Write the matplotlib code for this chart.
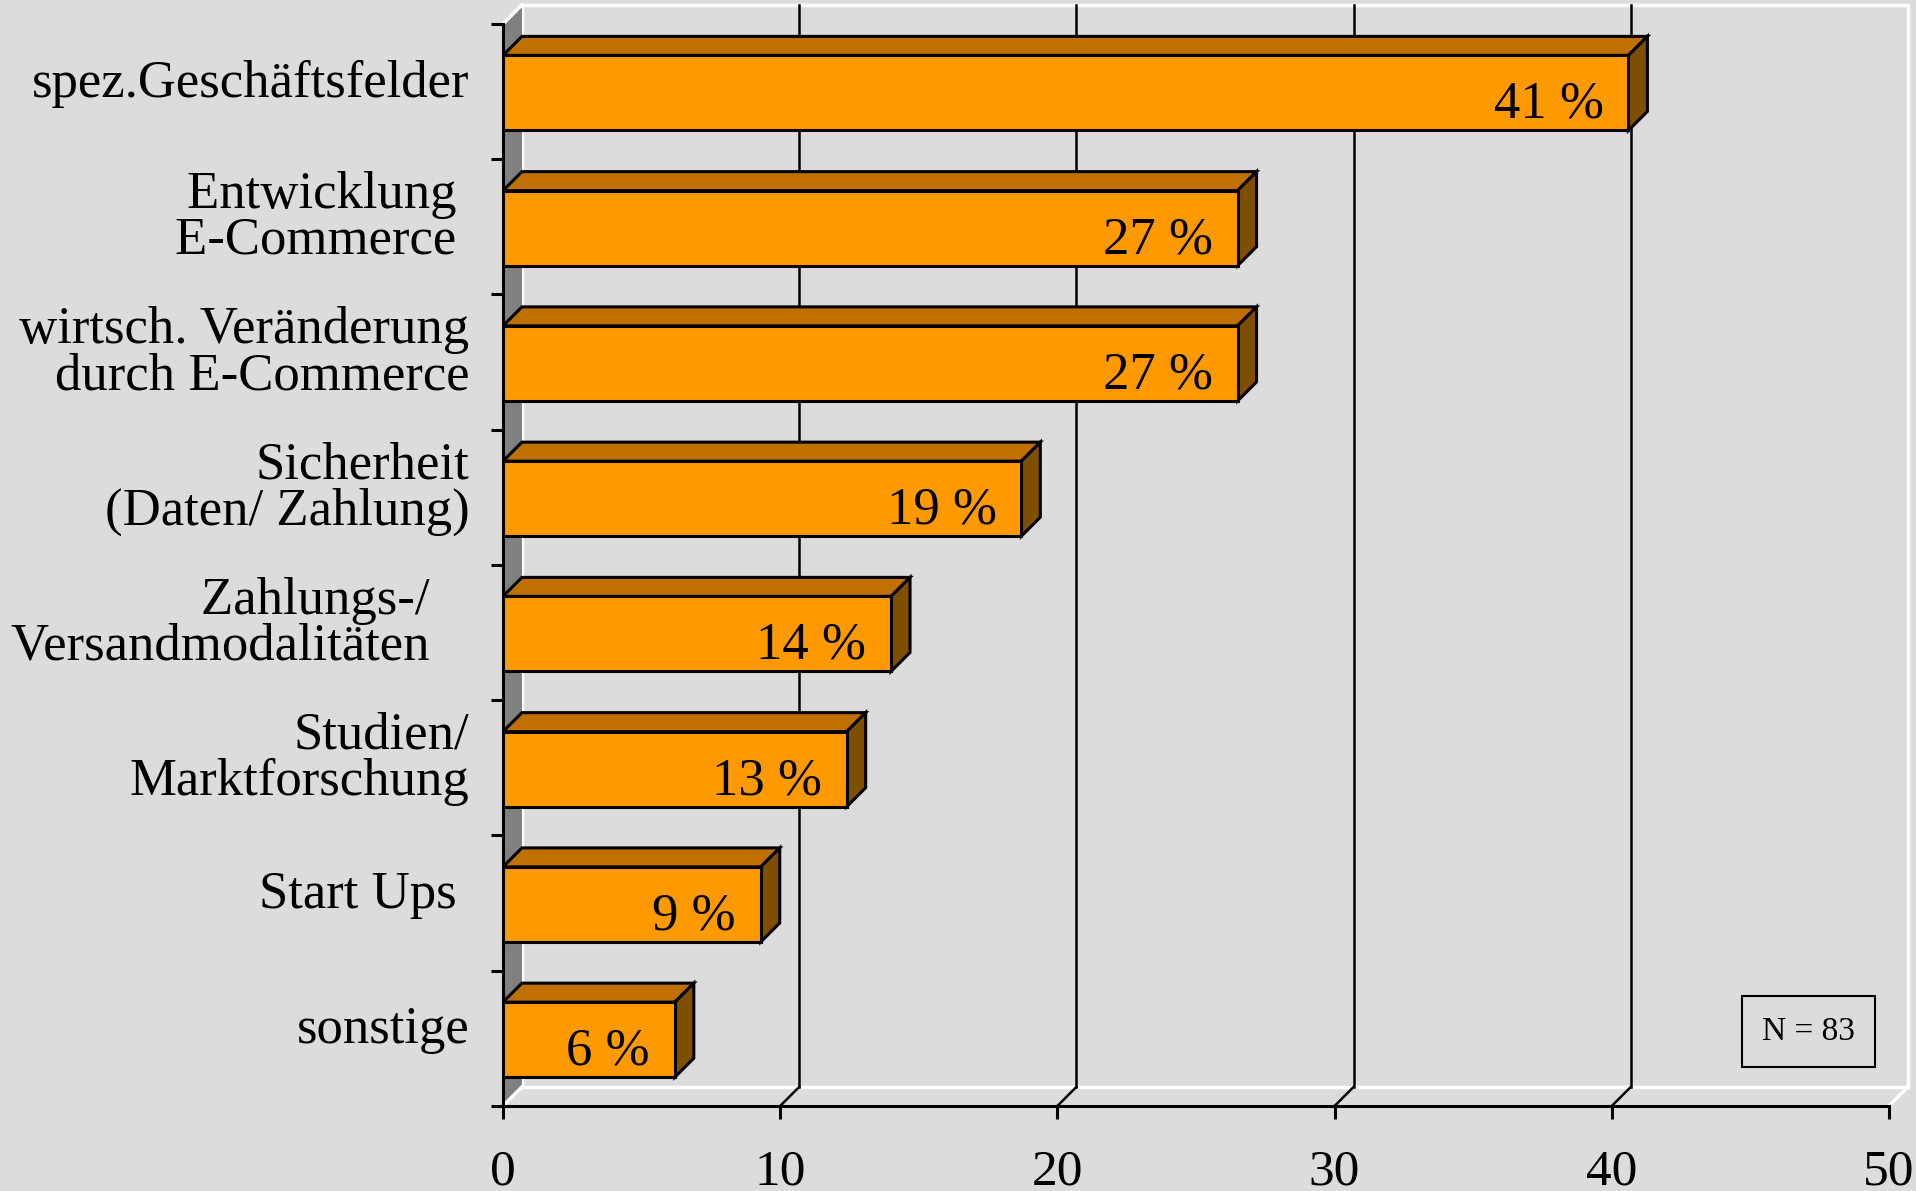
import numpy as np
import matplotlib
matplotlib.use('Agg')
import matplotlib.pyplot as plt
from matplotlib.patches import Polygon

plt.rcParams['font.family'] = ['Liberation Serif', 'DejaVu Serif']

# data (top to bottom)
kategorien = ['spez.Geschäftsfelder', 'Entwicklung \nE-Commerce ',
              'wirtsch. Veränderung\ndurch E-Commerce', 'Sicherheit\n(Daten/ Zahlung)',
              'Zahlungs-/   \nVersandmodalitäten   ', 'Studien/\nMarktforschung',
              'Start Ups ', 'sonstige']
werte = [40.6, 26.5, 26.5, 18.7, 14.0, 12.4, 9.3, 6.2]
beschriftung = ['41 %', '27 %', '27 %', '19 %', '14 %', '13 %', '9 %', '6 %']
x_ticks = [0, 10, 20, 30, 40, 50]
n_text = 'N = 83'

bg = '#DCDCDC'
front = '#FF9900'
oben = '#C07000'
seite = '#7F4F00'

fig = plt.figure(figsize=(19.16, 11.91), dpi=100, facecolor=bg)
ax = fig.add_axes([0.2625, 0.0714, 0.7234, 0.9085])
ax.set_facecolor(bg)
ax.set_xlim(0, 50)
ax.set_ylim(8, 0)

dx = 0.685   # Tiefe in x-Einheiten
dy = 0.1405  # Tiefe in Kategorie-Einheiten
n = len(werte)

#%% Waende
rueck = Polygon([(dx, -dy), (50 + dx, -dy), (50 + dx, n - dy), (dx, n - dy)],
                closed=True, facecolor=bg, edgecolor='white', lw=2.5, clip_on=False, zorder=0)
ax.add_patch(rueck)
links = Polygon([(0, 0), (dx, -dy), (dx, n - dy), (0, n)], closed=True,
                facecolor='#808080', edgecolor='none', clip_on=False, zorder=1)
ax.add_patch(links)
ax.plot([0, dx], [0, -dy], color='white', lw=2.5, clip_on=False, zorder=1)
ax.plot([0, dx], [n, n - dy], color='white', lw=2.5, clip_on=False, zorder=1)
ax.plot([50, 50 + dx], [n, n - dy], color='white', lw=2.5, clip_on=False, zorder=1)

for t in x_ticks[1:-1]:
    ax.plot([t + dx, t + dx], [-dy, n - dy], color='black', lw=1.8, clip_on=False, zorder=1)
    ax.plot([t, t + dx], [n, n - dy], color='black', lw=1.8, clip_on=False, zorder=1)

#%% Balken
mitte = np.arange(n) + 0.51
h = 0.555
ax.barh(mitte, werte, height=h, color=front, edgecolor='black', linewidth=2.2, zorder=3)
for y, v, txt in zip(mitte, werte, beschriftung):
    top = y - h / 2
    bot = y + h / 2
    ax.add_patch(Polygon([(0, top), (v, top), (v + dx, top - dy), (dx, top - dy)],
                         closed=True, facecolor=oben, edgecolor='black', lw=2.2, zorder=2))
    ax.add_patch(Polygon([(v, top), (v + dx, top - dy), (v + dx, bot - dy), (v, bot)],
                         closed=True, facecolor=seite, edgecolor='black', lw=2.2, zorder=2))
    ax.text(v - 0.9, y + 0.185, txt, ha='right', va='baseline', fontsize=38, zorder=4)

ax.text(47.1, 7.45, n_text, ha='center', va='center', fontsize=24,
        bbox=dict(boxstyle='square,pad=0.6', facecolor=bg, edgecolor='black', lw=1.5))

#%% Achsen
for s in ['top', 'right']:
    ax.spines[s].set_visible(False)
ax.spines['bottom'].set_linewidth(2.2)
ax.spines['left'].set_linewidth(2.2)
ax.spines['bottom'].set_zorder(5)
ax.spines['left'].set_zorder(5)

ax.set_xticks(x_ticks)
ax.set_xticklabels([str(t) for t in x_ticks], fontsize=37)
ax.tick_params(axis='x', direction='out', length=9, width=2.2, pad=22)

ax.set_yticks(np.arange(n + 1))
ax.set_yticklabels([])
ax.tick_params(axis='y', which='major', direction='out', length=9, width=2.2)
ax.set_yticks(mitte - 0.11, minor=True)
ax.set_yticklabels(kategorien, minor=True, fontsize=38, linespacing=0.95)
ax.tick_params(axis='y', which='minor', length=0, pad=24)

plt.savefig('out.png', dpi=100, facecolor=bg)
